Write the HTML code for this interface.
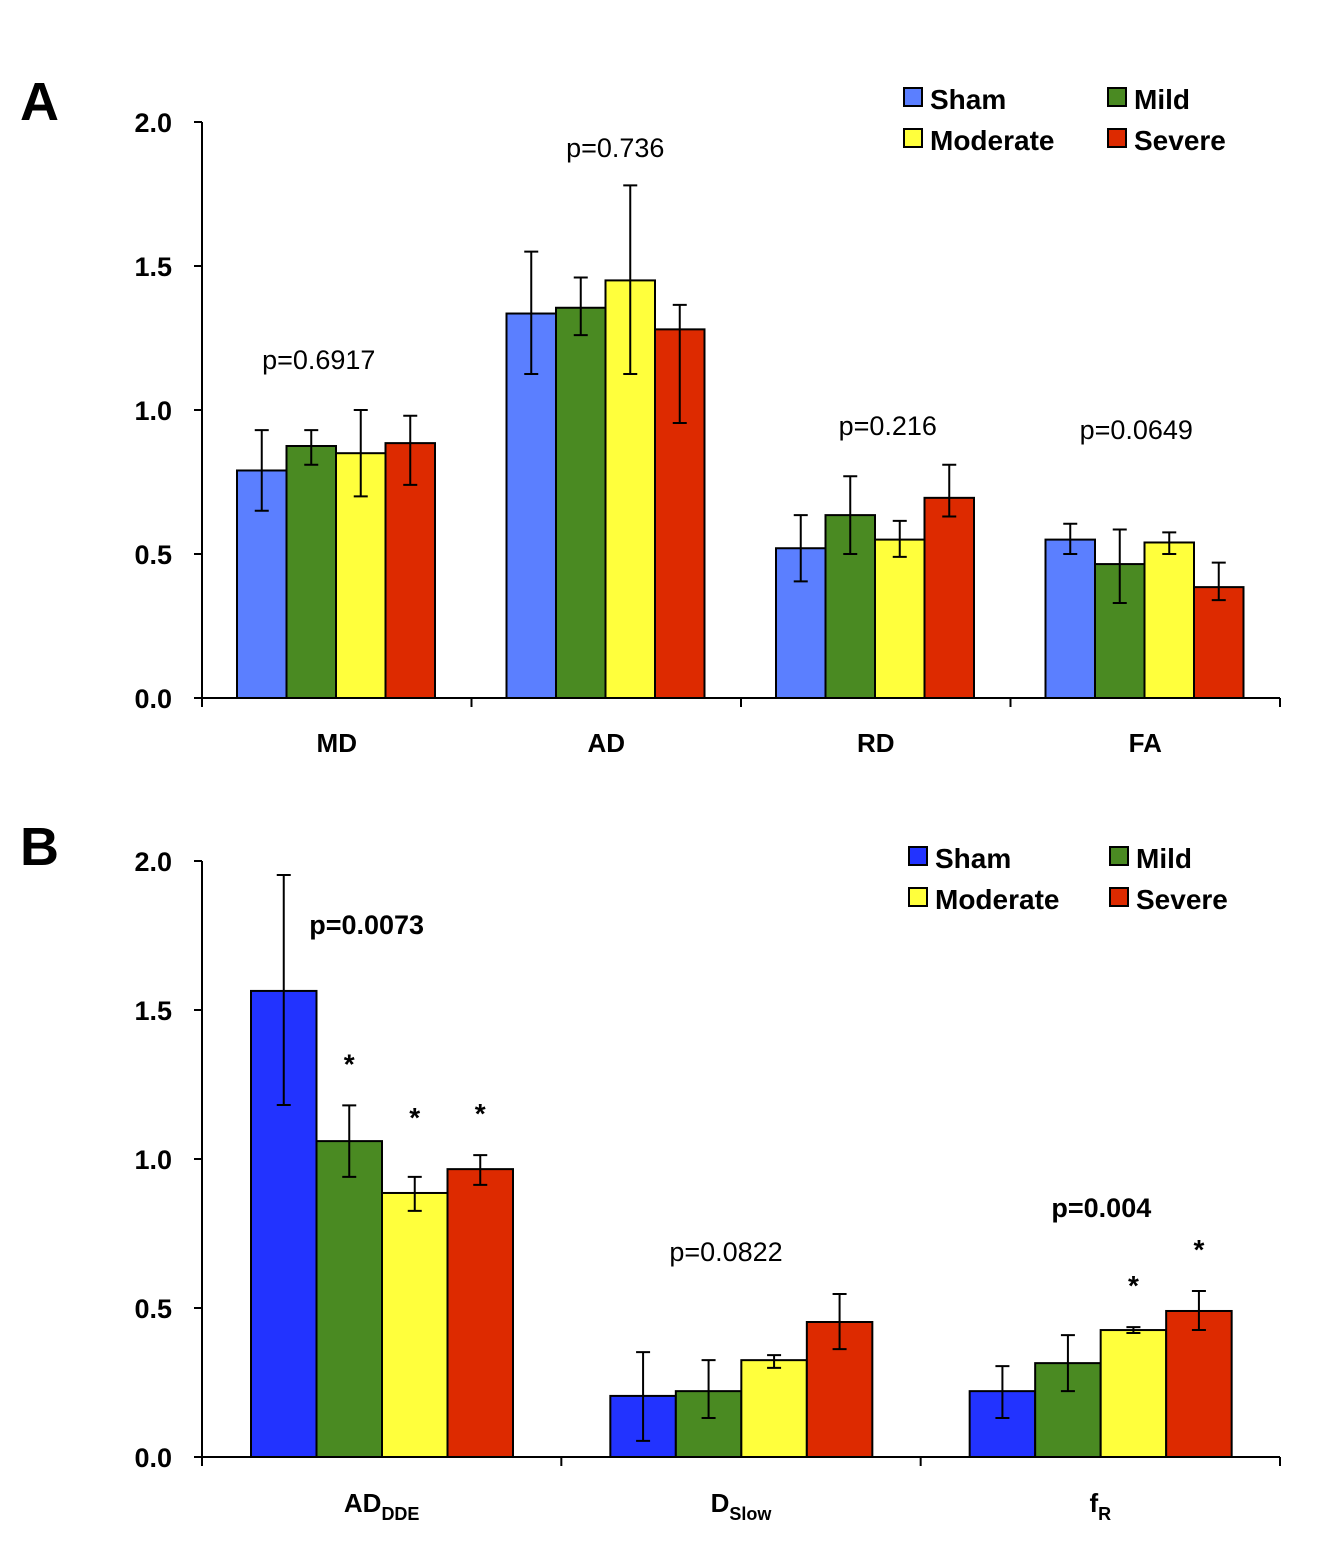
<!DOCTYPE html>
<html><head><meta charset="utf-8"><style>
html,body{margin:0;padding:0;background:#fff;}
svg text{font-family:"Liberation Sans",sans-serif;}
</style></head><body>
<svg id="chart" width="1330" height="1547" viewBox="0 0 1330 1547" xmlns="http://www.w3.org/2000/svg"></svg>
<script>
const groupNames = ["Sham","Mild","Moderate","Severe"];
const colorsA = ["#5b7fff","#4a8a22","#ffff3c","#dd2a00"];
const colorsB = ["#2233ff","#4a8a22","#ffff3c","#dd2a00"];
const tickLabels = ["0.0","0.5","1.0","1.5","2.0"];
const tickValues = [0,0.5,1.0,1.5,2.0];

const catsA = ["MD","AD","RD","FA"];
const valsA = [[0.79,0.875,0.85,0.885],[1.335,1.355,1.45,1.28],[0.52,0.635,0.55,0.695],[0.55,0.465,0.54,0.385]];
const loA = [[0.65,0.81,0.70,0.74],[1.125,1.26,1.125,0.955],[0.405,0.50,0.49,0.63],[0.50,0.33,0.50,0.34]];
const hiA = [[0.93,0.93,1.00,0.98],[1.55,1.46,1.78,1.365],[0.635,0.77,0.615,0.81],[0.605,0.585,0.575,0.47]];
const pA = ["p=0.6917","p=0.736","p=0.216","p=0.0649"];

const catsB = ["AD","D","f"];
const subsB = ["DDE","Slow","R"];
const valsB = [[1.564,1.06,0.886,0.966],[0.205,0.221,0.325,0.453],[0.221,0.315,0.426,0.49]];
const loB = [[1.181,0.94,0.826,0.913],[0.054,0.131,0.299,0.362],[0.131,0.221,0.416,0.426]];
const hiB = [[1.953,1.18,0.94,1.013],[0.352,0.325,0.342,0.547],[0.305,0.409,0.436,0.557]];
const pB = ["p=0.0073","p=0.0822","p=0.004"];
const pBbold = [true,false,true];
const starsB = [[false,true,true,true],[false,false,false,false],[false,false,true,true]];

const svg = document.getElementById('chart');
const NS = "http://www.w3.org/2000/svg";
function mk(tag, attrs, parent){const e=document.createElementNS(NS,tag);for(const k in attrs)e.setAttribute(k,attrs[k]);(parent||svg).appendChild(e);return e;}

function panel(cfg){
  const {x0,x1,y0,y2,cats,subs,vals,lo,hi,colors,pvals,pbold,stars,letter,letterY,legY,legX1,legX2,catY,pY,off,bw,name} = cfg;
  const g = mk('g',{});  
  const ys = v => y0 - v*(y0-y2)/2;
  const gw = (x1-x0)/cats.length;
  const L = mk('text',{x:20,y:letterY,'font-size':54,'font-weight':'bold'},g); L.textContent=letter;
   
  for(let c=0;c<cats.length;c++){
    for(let s=0;s<4;s++){
      const bx = x0 + c*gw + off + s*bw;
      const r = mk('rect',{x:bx,y:ys(vals[c][s]),width:bw,height:ys(0)-ys(vals[c][s]),fill:colors[s],stroke:'#000','stroke-width':2},g);
      
      
      const cx = bx+bw/2;
      const e = mk('path',{d:`M${cx},${ys(lo[c][s])}V${ys(hi[c][s])}M${cx-7},${ys(lo[c][s])}h14M${cx-7},${ys(hi[c][s])}h14`,stroke:'#000','stroke-width':2,fill:'none'},g);
       
      if(stars && stars[c][s]){
        const sy = (c===0 && s===2) ? ys(hi[c][s])-50 : ys(hi[c][s])-32;
        const st = mk('text',{x:cx,y:sy,'font-size':28,'font-weight':'bold','text-anchor':'middle'},g); st.textContent='*';
         
      }
    }
    const pt = mk('text',{x:x0+c*gw+gw/2 - (cfg.pShift?cfg.pShift[c]:0),y:pY[c],'font-size':27,'font-weight':pbold&&pbold[c]?'bold':'normal','text-anchor':'middle'},g);
    pt.textContent=pvals[c];  
    const ct = mk('text',{x:x0+c*gw+gw/2,y:catY,'font-size':26,'font-weight':'bold','text-anchor':'middle'},g);
     
    ct.textContent = cats[c];
    if(subs){const ts=document.createElementNS(NS,'tspan');ts.setAttribute('font-size',18);ts.setAttribute('dy',8);ts.textContent=subs[c];ct.appendChild(ts);}
  }
  const ax = mk('path',{d:`M${x0},${y2}V${y0}H${x1}`,stroke:'#000','stroke-width':2,fill:'none'},g);
   
  for(let i=0;i<tickValues.length;i++){
    const y=ys(tickValues[i]);
    mk('line',{x1:x0-8,x2:x0,y1:y,y2:y,stroke:'#000','stroke-width':2},g);
    const t=mk('text',{x:172,y:y+10,'font-size':27,'font-weight':'bold','text-anchor':'end'},g); t.textContent=tickLabels[i];
     
  }
  for(let c=0;c<=cats.length;c++){const x=x0+c*gw;mk('line',{x1:x,x2:x,y1:y0,y2:y0+9,stroke:'#000','stroke-width':2},g);}
  const lg = mk('g',{},g);  
  const pos=[[legX1,legY],[legX2,legY],[legX1,legY+41],[legX2,legY+41]];
  [0,1,2,3].forEach((s,i)=>{
    const [lx,ly]=pos[i];
    const it = mk('g',{},lg);  
    mk('rect',{x:lx,y:ly,width:18,height:18,fill:colors[s],stroke:'#000','stroke-width':2},it);
    const t=mk('text',{x:lx+26,y:ly+21,'font-size':28,'font-weight':'bold'},it); t.textContent=groupNames[s];
  });
}

panel({name:'panel-a',x0:202,x1:1280,y0:698,y2:122,cats:catsA,vals:valsA,lo:loA,hi:hiA,colors:colorsA,pvals:pA,
  letter:'A',letterY:120,legY:88,legX1:904,legX2:1108,catY:752,pY:[369,157,435,439],pShift:[18,-9,-12,9],off:35,bw:49.5});
panel({name:'panel-b',x0:202,x1:1280,y0:1457,y2:861,cats:catsB,subs:subsB,vals:valsB,lo:loB,hi:hiB,colors:colorsB,pvals:pB,pbold:pBbold,stars:starsB,
  letter:'B',letterY:865,legY:847,legX1:909,legX2:1110,catY:1512,pY:[934,1261,1217],pShift:[15,15,-1],off:49,bw:65.5});
</script>
</body></html>
